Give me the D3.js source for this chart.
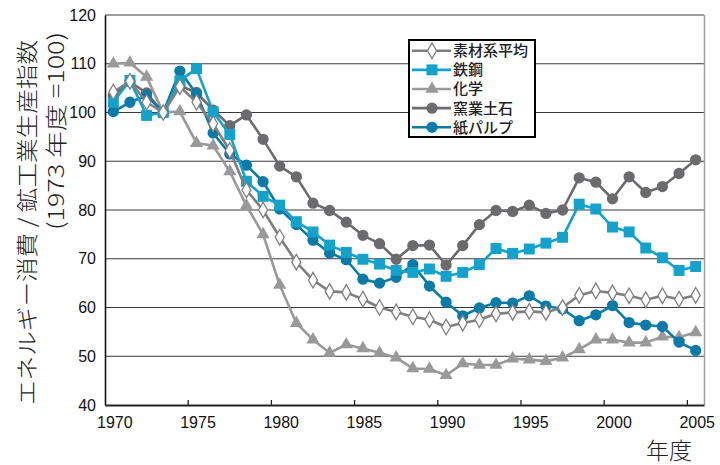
<!DOCTYPE html>
<html><head><meta charset="utf-8">
<script src="https://cdn.jsdelivr.net/npm/d3@7/dist/d3.min.js"></script>
<style>
body{margin:0;background:#fff;}
svg{display:block;}
.num{font-family:"Liberation Sans Narrow","Arial Narrow","Liberation Sans",sans-serif;font-size:16px;fill:#111;}
.jp{font-family:"Noto Sans CJK JP","Noto Sans CJK SC",sans-serif;fill:#222;}
</style></head>
<body>
<script>
const years = d3.range(1970, 2006);
const xTickYears = [1970,1975,1980,1985,1990,1995,2000,2005];
const yTicks = [40,50,60,70,80,90,100,110,120];
const seriesNames = ["素材系平均","鉄鋼","化学","窯業土石","紙パルプ"];
const sozai = [104.2,106.4,102.1,100,105.3,102.1,97.7,92.2,84.1,80.0,74.4,69.3,65.6,63.3,63.1,61.7,60.0,59.1,58.1,57.5,56.0,56.8,57.5,58.7,59.0,59.2,59.0,60.0,62.5,63.4,63.0,62.4,61.6,62.4,61.7,62.5];
const steel = [102.1,106.6,99.4,100,106.5,109.0,100.1,95.5,85.9,82.8,81.0,77.6,75.5,72.8,71.3,69.9,68.9,67.6,67.2,67.9,66.4,67.2,68.8,72.1,71.1,72.0,73.2,74.4,81.2,80.2,76.5,75.5,72.2,70.2,67.6,68.4];
const chem = [110.0,110.2,107.3,100,100.2,93.7,93.2,87.9,80.9,75.0,64.6,56.8,53.4,50.7,52.4,51.6,50.7,49.7,47.5,47.4,46.1,48.5,48.2,48.2,49.5,49.3,49.0,49.7,51.4,53.4,53.4,52.8,52.8,54.0,53.9,54.9];
const ceramic = [103.5,106.3,104.0,100,105.5,104.1,100.5,97.3,99.5,94.5,89.0,86.8,81.4,79.9,77.5,74.8,73.1,69.9,72.7,72.8,68.7,72.7,77.0,79.9,79.7,81.0,79.3,80.0,86.6,85.7,82.3,86.8,83.6,84.8,87.5,90.3];
const paper = [100.2,102.1,103.5,100,108.5,103.8,95.8,91.5,89.2,85.8,80.2,77.0,73.8,71.2,69.8,65.8,65.0,66.2,68.8,64.4,61.1,58.3,59.9,61.0,60.9,62.4,60.3,59.7,57.3,58.5,60.4,56.9,56.4,56.1,52.9,51.2];

const W = 720, H = 465;
const svg = d3.select("body").append("svg").attr("width", W).attr("height", H);

const x = d3.scaleBand().domain(years).range([105, 704]).paddingInner(0).paddingOuter(0);
const y = d3.scaleLinear().domain([40, 120]).range([405, 15]);
const cx = d => x(d) + x.bandwidth() / 2;

// gridlines
svg.append("g").selectAll("line").data(yTicks.filter(v => v > 40)).join("line")
  .attr("x1", 105).attr("x2", 704).attr("y1", d => y(d)).attr("y2", d => y(d))
  .attr("stroke", "#3a3a3a").attr("stroke-width", 1.1);
// right border
svg.append("line").attr("x1", 704.5).attr("x2", 704.5).attr("y1", y(120)).attr("y2", y(40))
  .attr("stroke", "#a0a0a0").attr("stroke-width", 1.5);

// y axis
const yAxis = svg.append("g").attr("transform", "translate(105,0)")
  .call(d3.axisLeft(y).tickValues(yTicks).tickSize(0).tickPadding(9));
yAxis.select(".domain").attr("stroke", "#111").attr("stroke-width", 1.6);
yAxis.selectAll("text").attr("class", "num").attr("font-family", null).attr("font-size", null);

// x axis
const xAxis = svg.append("g").attr("transform", "translate(0,405)")
  .call(d3.axisBottom(x).tickValues(xTickYears).tickSize(0).tickPadding(12));
xAxis.select(".domain").attr("stroke", "#222").attr("stroke-width", 1.8);
xAxis.selectAll("text").attr("class", "num").attr("font-family", null).attr("font-size", null)
  .attr("dx", 1.5);
xAxis.selectAll(".tick line").remove();
svg.append("g").selectAll("line").data(xTickYears.slice(1)).join("line")
  .attr("x1", d => x(d)).attr("x2", d => x(d)).attr("y1", 405).attr("y2", 400)
  .attr("stroke", "#222").attr("stroke-width", 1.3);

// series (drawing order)
const series = [
  {name: seriesNames[2], values: chem, color: "#999999", marker: "triangle", fill: "#999999"},
  {name: seriesNames[3], values: ceramic, color: "#6b6b6e", marker: "circle", fill: "#6b6b6e"},
  {name: seriesNames[4], values: paper, color: "#0a7aa8", marker: "circle", fill: "#0a7aa8"},
  {name: seriesNames[1], values: steel, color: "#13a2cb", marker: "square", fill: "#13a2cb"},
  {name: seriesNames[0], values: sozai, color: "#7f7f7f", marker: "diamond", fill: "#ffffff"}
];
const symType = {triangle: d3.symbolTriangle, circle: d3.symbolCircle, square: d3.symbolSquare, diamond: d3.symbolDiamond};
const symSize = {triangle: 75, circle: 100, square: 120, diamond: 70};

const line = d3.line().x((d, i) => cx(years[i])).y(d => y(d));
series.forEach(s => {
  const g = svg.append("g");
  g.append("path").datum(s.values).attr("d", line).attr("fill", "none")
    .attr("stroke", s.color).attr("stroke-width", 2.6).attr("stroke-linejoin", "round");
  g.selectAll("path.m").data(s.values).join("path").attr("class", "m")
    .attr("d", d3.symbol().type(symType[s.marker]).size(symSize[s.marker]))
    .attr("transform", (d, i) => `translate(${cx(years[i])},${y(d)})`)
    .attr("fill", s.fill).attr("stroke", s.marker === "diamond" ? s.color : "none")
    .attr("stroke-width", 1.3);
});

// legend
const lg = svg.append("g");
lg.append("rect").attr("x", 409).attr("y", 40).attr("width", 126).attr("height", 97)
  .attr("fill", "#fff").attr("stroke", "#000").attr("stroke-width", 2);
const legendItems = [series[4], series[3], series[0], series[1], series[2]];
legendItems.forEach((s, i) => {
  const yy = 50.7 + i * 19.15;
  lg.append("line").attr("x1", 412).attr("x2", 451).attr("y1", yy).attr("y2", yy)
    .attr("stroke", s.color).attr("stroke-width", 2.6);
  lg.append("path").attr("d", d3.symbol().type(symType[s.marker]).size(symSize[s.marker])())
    .attr("transform", `translate(432,${yy})`).attr("fill", s.fill)
    .attr("stroke", s.marker === "diamond" ? s.color : "none").attr("stroke-width", 1.3);
  lg.append("text").attr("class", "jp").attr("x", 453).attr("y", yy).attr("dy", "0.36em")
    .attr("font-size", 15).attr("font-weight", 500).text(s.name);
});

// y title
svg.append("text").attr("class", "jp").attr("transform", "translate(25,405) rotate(-90)")
  .attr("dominant-baseline", "central").attr("font-size", 22).attr("font-weight", 300)
  .attr("textLength", 365).attr("lengthAdjust", "spacingAndGlyphs")
  .text("エネルギー消費 / 鉱工業生産指数");
svg.append("text").attr("class", "jp").attr("transform", "translate(53.5,230) rotate(-90)")
  .attr("dominant-baseline", "central").attr("font-size", 22).attr("font-weight", 300)
  .attr("textLength", 198).attr("lengthAdjust", "spacingAndGlyphs")
  .text("(1973 年度 =100)");

// x title
svg.append("text").attr("class", "jp").attr("x", 669).attr("y", 459).attr("text-anchor", "middle")
  .attr("font-size", 23).attr("font-weight", 300).text("年度");
</script>
</body></html>
